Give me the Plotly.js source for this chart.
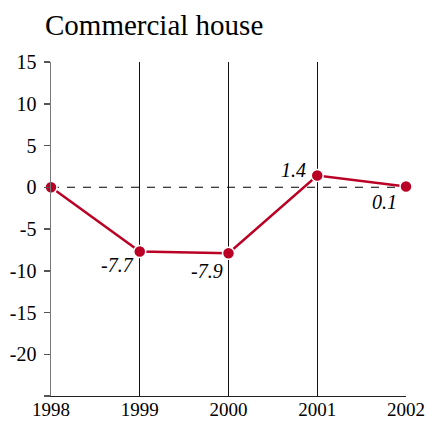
<!DOCTYPE html>
<html><head><meta charset="utf-8">
<script src="https://cdn.plot.ly/plotly-3.0.1.min.js"></script>
<style>html,body{margin:0;padding:0;background:#fff}#chart{width:426px;height:422px}</style>
</head><body><div id="chart"></div>
<script>
const years = [1998, 1999, 2000, 2001, 2002];
const values = [0, -7.7, -7.9, 1.4, 0.1];
const labelText = ['', '-7.7', '-7.9', '1.4', '0.1'];
const yTickVals = [15, 10, 5, 0, -5, -10, -15, -20, -25];
const yTickText = ['15', '10', '5', '0', '-5', '-10', '-15', '-20', ''];
const xTickText = ['1998', '1999', '2000', '2001', '2002'];
const labelShiftX = [0, -22, -22, -24, -22];
const labelShiftY = [0, -13, -18, 6, -16];

const serif = 'Liberation Serif, Times New Roman, serif';
const red = '#bb0025';

const annotations = [];
for (let i = 0; i < years.length; i++) {
  if (!labelText[i]) continue;
  annotations.push({
    x: years[i], y: values[i], xref: 'x', yref: 'y',
    text: '<i>' + labelText[i] + '</i>', showarrow: false,
    xshift: labelShiftX[i], yshift: labelShiftY[i],
    font: {family: serif, size: 20, color: '#000'}
  });
}

const trace = {
  x: years, y: values, type: 'scatter', mode: 'lines+markers',
  line: {color: red, width: 2.5},
  marker: {color: red, size: 12, line: {color: '#fff', width: 1.5}},
  cliponaxis: false, hoverinfo: 'none'
};

const layout = {
  width: 426, height: 422,
  margin: {l: 51, r: 20, t: 62, b: 26},
  paper_bgcolor: '#fff', plot_bgcolor: '#fff',
  font: {family: serif, color: '#000'},
  showlegend: false,
  title: {text: 'Commercial house', x: 45/426, xanchor: 'left', y: 1 - 25/422, yanchor: 'middle',
          font: {family: serif, size: 29, color: '#000'}},
  xaxis: {
    range: [1998, 2002], tickvals: years, ticktext: xTickText,
    showgrid: true, gridcolor: '#111', gridwidth: 1,
    showline: true, linecolor: '#222', linewidth: 1,
    ticks: '', zeroline: false, fixedrange: true,
    ticklabelstandoff: -4,
    tickfont: {family: serif, size: 19, color: '#000'}
  },
  yaxis: {
    range: [-25, 15], tickvals: yTickVals, ticktext: yTickText,
    showgrid: false, zeroline: false,
    showline: true, linecolor: '#777', linewidth: 1.5,
    ticks: 'outside', ticklen: 6, tickcolor: '#555', tickwidth: 1.5,
    ticklabelstandoff: 3,
    tickfont: {family: serif, size: 20, color: '#000'}, fixedrange: true
  },
  shapes: [{
    type: 'line', xref: 'paper', yref: 'y', x0: 0, x1: 1, y0: 0, y1: 0,
    line: {color: '#000', width: 1, dash: '8px,8px'}, layer: 'below'
  }],
  annotations: annotations
};

Plotly.newPlot('chart', [trace], layout, {displayModeBar: false, staticPlot: true});
</script>
</body></html>
